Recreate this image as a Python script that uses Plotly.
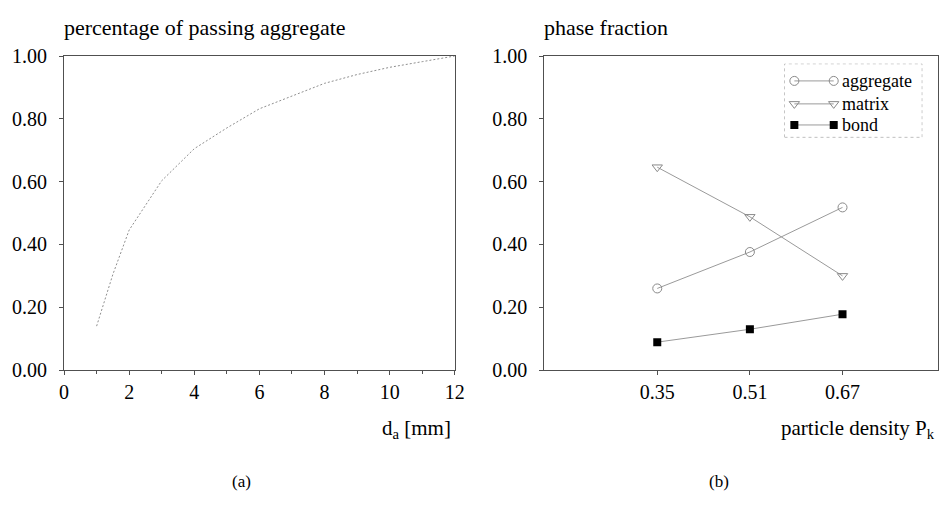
import plotly.graph_objects as go

# (a) grading curve of the aggregate
grain_size_mm = [1, 1.5, 2, 3, 4, 5, 6, 7, 8, 9, 10, 11, 12]
passing_fraction = [0.14, 0.305, 0.446, 0.603, 0.705, 0.771, 0.832, 0.873, 0.913, 0.941, 0.964, 0.982, 1.0]

# (b) phase fractions versus particle density
particle_density = [0.35, 0.51, 0.67]
aggregate_frac = [0.26, 0.376, 0.518]
matrix_frac = [0.646, 0.488, 0.30]
bond_frac = [0.089, 0.130, 0.178]

series_names = ["aggregate", "matrix", "bond"]

W, H = 951, 519
FONT = "Liberation Serif"
AXIS_COL = "#505050"
LINE_COL = "#9a9a9a"


def px_x(p):
    return p / W


def px_y(p):
    return 1 - p / H


fig = go.Figure()

fig.add_trace(go.Scatter(
    x=grain_size_mm, y=passing_fraction, mode="lines",
    line=dict(color="#8f8f8f", width=1, dash="2px,2px"),
    xaxis="x", yaxis="y", showlegend=False))

line_style = dict(color=LINE_COL, width=1)
marker_styles = [
    dict(symbol="circle-open", size=9, color="#8a8a8a", line=dict(width=1)),
    dict(symbol="triangle-down-open", size=9, color="#8a8a8a", line=dict(width=1)),
    dict(symbol="square", size=8, color="black"),
]
for name, vals, mk in zip(series_names, [aggregate_frac, matrix_frac, bond_frac], marker_styles):
    fig.add_trace(go.Scatter(
        x=particle_density, y=vals, mode="lines+markers", name=name,
        line=line_style, marker=mk, xaxis="x2", yaxis="y2", showlegend=False))

# legend box inside panel (b): a line with a marker at both ends
legend_rows = [59, 35, 13]
for name, row, mk in zip(series_names, legend_rows, marker_styles):
    fig.add_trace(go.Scatter(
        x=[10, 50], y=[row, row], mode="lines+markers",
        line=line_style, marker=mk, xaxis="x3", yaxis="y3",
        showlegend=False, hoverinfo="skip"))
    fig.add_annotation(x=56, y=row, xref="x3", yref="y3", text=name,
                       showarrow=False, xanchor="left", yanchor="middle",
                       font=dict(family=FONT, size=18, color="black"))

tick_font = dict(family=FONT, size=20, color="black")
common_axis = dict(showgrid=False, zeroline=False, showline=True, linecolor=AXIS_COL,
                   linewidth=1, mirror=True, ticks="outside", ticklen=4,
                   tickcolor=AXIS_COL, tickfont=tick_font)

y_dom = [px_y(375), px_y(47)]
y_ticks = [0, 0.2, 0.4, 0.6, 0.8, 1.0]

fig.update_layout(
    width=W, height=H,
    margin=dict(l=0, r=0, t=0, b=0),
    paper_bgcolor="white", plot_bgcolor="white",
    xaxis=dict(domain=[px_x(60), px_x(457)], range=[0, 12], tickvals=list(range(0, 13, 2)),
               minor=dict(tickvals=list(range(1, 12, 2)), ticks="outside", ticklen=3,
                          tickcolor=AXIS_COL),
               anchor="y", **common_axis),
    yaxis=dict(domain=y_dom, range=[0, 1], tickvals=y_ticks, tickformat=".2f",
               ticklabelstandoff=8, anchor="x", **common_axis),
    xaxis2=dict(domain=[px_x(548), px_x(948)], range=[0.155, 0.835],
                tickvals=particle_density, ticktext=["0.35", "0.51", "0.67"],
                anchor="y2", **common_axis),
    yaxis2=dict(domain=y_dom, range=[0, 1], tickvals=y_ticks, tickformat=".2f",
                ticklabelstandoff=8, anchor="x2", **common_axis),
    xaxis3=dict(domain=[px_x(792), px_x(932)], range=[0, 140], visible=False,
                fixedrange=True, anchor="y3"),
    yaxis3=dict(domain=[px_y(132), px_y(55)], range=[0, 77], visible=False,
                fixedrange=True, anchor="x3"),
)

fig.add_shape(type="rect", xref="x3", yref="y3", x0=0, x1=140, y0=0, y1=77,
              line=dict(color="#8a8a8a", width=1, dash="dot"))

label_font = dict(family=FONT, size=21, color="black")
fig.add_annotation(x=px_x(58), y=px_y(17), xref="paper", yref="paper",
                   text="percentage of passing aggregate", showarrow=False,
                   xanchor="left", yanchor="middle", font=dict(family=FONT, size=22, color="black"))
fig.add_annotation(x=px_x(546), y=px_y(17), xref="paper", yref="paper",
                   text="phase fraction", showarrow=False,
                   xanchor="left", yanchor="middle", font=dict(family=FONT, size=22, color="black"))
fig.add_annotation(x=px_x(455), y=px_y(437), xref="paper", yref="paper",
                   text="d<sub>a</sub> [mm]", showarrow=False,
                   xanchor="right", yanchor="middle", font=label_font)
fig.add_annotation(x=px_x(947), y=px_y(437), xref="paper", yref="paper",
                   text="particle density P<sub>k</sub>", showarrow=False,
                   xanchor="right", yanchor="middle", font=label_font)
fig.add_annotation(x=px_x(240), y=px_y(491), xref="paper", yref="paper",
                   text="(a)", showarrow=False, xanchor="center", yanchor="middle",
                   font=dict(family=FONT, size=17, color="black"))
fig.add_annotation(x=px_x(725), y=px_y(491), xref="paper", yref="paper",
                   text="(b)", showarrow=False, xanchor="center", yanchor="middle",
                   font=dict(family=FONT, size=17, color="black"))

fig.write_html("out.html")
